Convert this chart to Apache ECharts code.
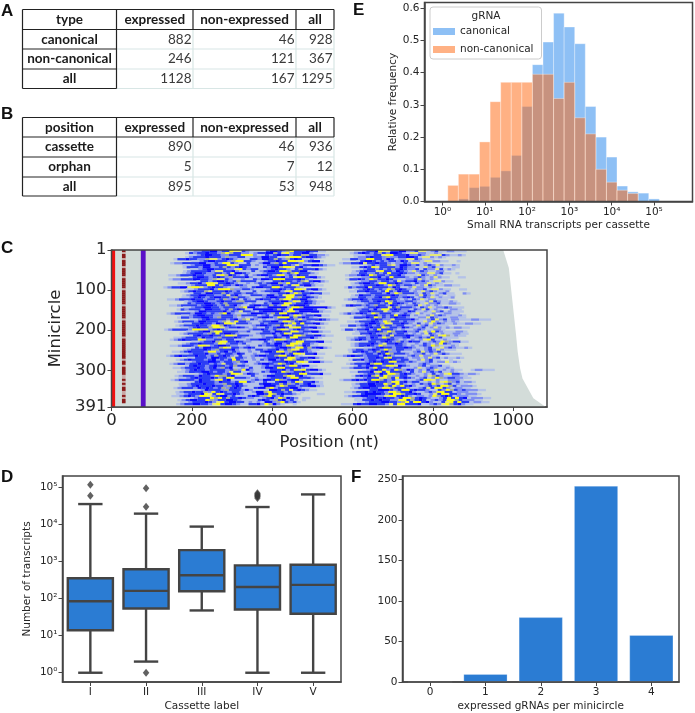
<!DOCTYPE html>
<html><head><meta charset="utf-8">
<style>html,body{margin:0;padding:0;background:#fff}#c{width:695px;height:713px}</style>
<script src="https://cdn.jsdelivr.net/npm/echarts@6/dist/echarts.min.js"></script>
</head><body><div id="c"></div>
<script>
// ---- Tables A, B
const tableAHeader = ['type','expressed','non-expressed','all'];
const tableARows = [['canonical',882,46,928],['non-canonical',246,121,367],['all',1128,167,1295]];
const tableBHeader = ['position','expressed','non-expressed','all'];
const tableBRows = [['cassette',890,46,936],['orphan',5,7,12],['all',895,53,948]];

// ---- Panel E: log10 bin edges, relative frequency
const histEdges = [0.126,0.376,0.626,0.876,1.126,1.376,1.626,1.876,2.126,2.376,2.626,2.876,3.126,3.376,3.626,3.876,4.126,4.376,4.626,4.876,5.126];
const canonicalFreq =    [0,0.008,0.043,0.047,0.075,0.095,0.143,0.295,0.425,0.495,0.585,0.542,0.49,0.295,0.2,0.138,0.048,0.03,0.026,0.008];
const nonCanonicalFreq = [0.05,0.085,0.085,0.185,0.31,0.37,0.37,0.37,0.395,0.395,0.32,0.37,0.26,0.21,0.10,0.06,0.035,0.025,0,0];

// ---- Panel D
const cassetteLabels = ['I','II','III','IV','V'];
const boxLow =  [1,2,48,1,1];
const boxQ1 =   [14,54,158,51,39];
const boxMed =  [85,162,427,207,235];
const boxQ3 =   [355,620,2040,790,825];
const boxHigh = [35700,19700,8800,29700,65000];
const outlierCassette = [0,0,1,1,1,3,3,3,3,3];
const outlierValue = [60000,118000,1,30000,96000,52000,57000,61000,65000,70000];

// ---- Panel F
const gRNACounts = ['0','1','2','3','4'];
const minicircleCounts = [0,10,80,242,58];

// ---- Panel C
const greyRows = [1,46,129,212,253,295,320,344,369,391];
const greyEnds = [975,989,998,1007,1011,1017,1023,1036,1050,1081];
const fixedBars = [[0,9,'#f01010'],[73,85,'#5a10c8']];
const redDash = [26,35];
const redDashRows = 'rqrrqrrrqrrrrqrrrrrqrrrrrrrqrrrrrrqrrrrrrrrqrrrrrrrrrrqrrqrrrrqqrqrqrrqqrqrr';
const palette = {a:'#b4c2e8',c:'#7f8ef2',b:'#2c3ef5',B:'#0808ff',y:'#fbfb1c',p:'#e4e87a',o:'#a6ae98'};
// estimated start offset of each row's streaks, in nt
const rowShift = [14,-7,22,3,-16,9,-24,17,-3,26,-12,6,-19,12,-28,21,-5,8,-31,15,-9,24,-14,4,-22,11,-1,-27,18,-8,7,-33,13,-17,25,-4,10,-21,2,-29,16,-11,23,-6,-25,19,5,-15,28,-2,-20,12,-34,8,-10,20,-26,3,-18,14,-7,27,-13,6,-23,17,-3,9,-16,22,-11,1,-21,15,-6,11,-19,5];
// one string per 5 minicircles; one character per 10 nt starting at 150 nt, grouped per 100 nt
const heatRows = [
"...accbbBB cbbyppbcaa aabBBbcoyb bbBbbaa... ....aacbbB yppbbBBccb ppacbaacca aa........",
"....abcbbB bbcoyobbcc acbbBBobpy cbbBBca... .....acbBb cbobcBBbca ppccaaca.. ..........",
"..aacbBBbb ccbbbyyyca abcbBbbcbb oobbcca... ...aaaccbb pyybbbBccb capppbcaac a.........",
"...acbbbBb bbcoccbbaa ccBBbbaapy yybBBbca.. .....accbB bbcoccbbBB bappcaca.. ..........",
"..abbBbbcc oppcbBbcaa abbcBBbobc obBbaac... ....aabbcc yybbcBbacc ppbcaaa... ..........",
"....aacbBB bbbcoyybbc aacbbBbbyy pycbBBa... .....abBBb cbcbbcBbac cappccaa.. a.........",
"..accbbbbB Bccbcyybca abaacBBcob ybbbca.... ....accbbB pbbBbbcacc bcppaca... ..........",
".aacbbBBcb bbyypbbbac acbbbBbbcp cbbBBbcaa. ......acbc bbopcBBbcb acbcpcaaca ..........",
"...abbbcBB ccbobcbBbc aaabcBBoyy pbBca..... .....aabBb ypbbbbcBbc caapcbaa.. aa........",
"..aacbBBbb bccpybcbba acbBbbcabo bbbBca.... ....acbbcb cbobBbccba bccpbaca.. ..........",
"....acbbbb BcppbbBcaa abacbBBbyy obbBBa.... ......acbB bbpybbcBbc apcbcaacc. ..........",
"..acbBBbcc bbcbpBBbca aacbbbbcbo ybbbca.... ....aabbcc bcbybbBbcc accppcbaa. a.........",
".aacbbbBbb ccbpyoBbca bacbBBbcyy cbcBbbaa.. .....accbB byobbcbbBc aaapbcaca. ..........",
"...abBBbcb BbcobbbBca aacbbbBcbp yybBBca... ....aaccbb Bcbybbbcac bcacpcaa.. aa........",
"..accbbbBB bbcoppbcaa caabcBBbyy ybbbBbca.. ......abbB bcyobbBbca accbpcaca. ..........",
"....abbcbB BbcbobbbbaC aabbBbbcbo pbBBca... ....accbbc bbcbpcbbBc bcappcaa.. ..........",
"..aacbbBcy ypbbBbcaac acbcbBBocy bbcbbca... .....acbBB bcyybbBbcc abccpaca.. ..........",
"...acbbbyy bobbcBbcaa abbcbbBcbp ybBBcaa... ....aacbbb Bbcyobcbbc acpbcaacca a.........",
".acbbBBpyy pcbBbbcaaa ccabBBbbyy cbbbca.... ......abcb bBpbbbbcBb aacpccaca. ..........",
"..aacbbbBc yyyoccbbca aacbbBbcby ypbBBca... ....acbBbc bcyobBbcac cbappcaa.. aa........",
"...acbBbbo pbbbBbcbaa abacbbBBcp ybbBca.... .....aabbB bbcbybcBbb acapcbcaac ..........",
"..abbcBBbb obcbbcbbca aaccbbBcyo bbBbbaa... ....aacbbb cBcyobbbca bcpacbaa.. ca........",
"....acbbBB bbccbpbBca abbbcBBcbp yybbBcaa.. ......acBb bcbbbbBbcc aacpbcaca. aa........",
"..aacbBbcb BBbbcobbca aacbBBbbyy cobBbca... ....aabbcc bBoybbcbBb acbcpacaac ..........",
".aacbbbBbb cbbcbocBba bcabBbbcbo yybbBBca.. .....acbbB bcbbbbBbca cabcpaccaa a.........",
"..acbBBbcc bBbbcoobbb aacbbbBBcy pbBbcaa... ....acbbcb BbyobccbbC aacpbcaaca ..........",
"...abcbbBB bcbobbbbca caabcBBbyy cbbBbca... ......aacb bbcbybBbca bcapccbaac ca........",
"..aacbbbbc bBBbcbobBc aabBBbbobc ypbBBBba.. .....abBbb cbcobbcBbc accbpacaca ..........",
".aacbbBBbb cbbbcoyBBc acBBBBBcyy oBBBBBBca. ....aacbbB bbpbobbbca bcpaccbcaa a.........",
"..abcbbbcB BbbcbobBba aBBBBBbobc yBBBBBbaa. ......acbb cBcyybBbcc abcpbaca.. cca.......",
"...aacBBbb bbBcbcpbbc abBBBBBcyy cBBBBBcaa. ....aabbBb bbpcbbccBb aacapcbaca aa........",
"..acbbbbcB BbcbcoyBca aacBBBbcob yybBBbca.. .....acbcb Bbcyobbbca cbcapcaac. accaa.....",
".aacbBBbbc cbbbcobbbb acbabbBBcy pcbbBBaa.. ....aacbbB cbcbybBbac aacpcbcaaa ca........",
"...abbcbbB BbcobbbcaC aacbBBbcyy ybobBbca.. ......abbb BbyobcbBbb caaccpbcaa accaa.....",
"..aacbBbbb bcbBcopbca caacbbBbcp cbbbBbcaa. .....acbBb ccpbbbbBca acbpcbacca aaccaaa...",
".acbbbcBBb bbcopcybbc aacbbBBcyy obBbca.... ....aacbbb Bbcyobbcbc caapcycaca ca........",
"..aabbBbbc Bbyypbbbca abcbbbBbcy bybbBBca.. .....acbBB bcypbbBbca bacpcbcaac aaccaa....",
"...acbbbBb bcyyoBbcaa aacbBBbcob pycbbcaa.. ....aabbcb Bbcbobbcbb aacpcbacaa a.........",
"..aacbBbbo yypcbbBbca caabcbBBbp yybbBBca.. ......acbB bbyobbcBbc acbacpcaca ccaa......",
".acbbbbcyy ppcbBbcaaa aacbbBbcbo ypcbBbca.. .....abbcb bBcbybbbca caacbcaacc a.........",
"..aacbBBoy ybbbbccbaa abbcBBbbyy cbbBBcaa.. ....accbbB bcyobbBccb apcybcaaac ca........",
"...acbbbbc obybBBbcaa aacbbbBcby pbbbca.... ......aabb BbcoobcbbC acacpbcaca accaa.....",
"..abBbbBbb cyypbbbcaa caabcBBbyy obbBBcaa.. .....acbbB cbpbbbBbcc aabcpyoaca a.........",
".aacbbbcBb bcobbbBbca aaacbbBbcb yybbbBca.. ....aacbbc BbcyobccbB acbcbycbaa aa........",
"..acbBbbby pccbbcbbaa acbbBBbcyy pcbBbca... ......acbB bcbbbbBbca cacacpybaa ca........",
"...aacbbBo yybbBbccaa abacbbBbcy ybbbBBaa.. .....aabbc bBbcobcBbb aacbcyocbb aa........",
"..acbbBbbb cypcbbcbaa aacbcBBcby ypbbca.... ....acbbbB bcpbbBbcaa cabcacybca a.........",
".aacbbbcyy pcbBBbccaa caabcbbBbc yyocBbaa.. ......acbb Bbcyoccbbc acacbcyoaa aca.......",
"..abcBBbbo ypbbcbBbaa aacbBBbcyy bobBBca... .....aacbB bbcbbBbcaa cbaapcbcaa ca........",
"...acbbbBb cobbbBcaac abbcbbBcbo ypbbcaa... ....acbbcb BbcyocbbcC acacbcpcaa a.........",
"..aacbBbbb cyycbBcbca acaabBBbyy cobBBbca.. ......abbB bcbobBccba aacbpcbcba ..........",
".aacbbbBcc bcbbcBbaaC aacbbbBcby ypbbBaa... .....acbbc Bbyobbbcac cbacpcbcaa a.........",
"..acbBbbbB bbcbobBbca baacbBBbbo yybBca.... ....aacbBb bcbbbcBbca aacbcpccaa ..........",
"...aabbbcB BbbcpbbcaC aacbbBbbyy cbbBBca... ......acbb Bbpybbbcac cacpcbacaa ca........",
"..acbBbbbc bBcbcbybca acabcBBcbp yobbca.... .....abbBc bbcbbBbcbb aacpcbaa.. a.........",
".aacbbbBBb cbbcobBaaC aacbbbBbby ypbBBcaa.. ....aacbBb Bbyybbcbca acbaccpaca ..........",
"..acbbcbbB bbcbcpbbca caacbBBbcy obBca..... ......acbb bBoyybbbcc caaacbcaa. ..........",
"...abBbbcb Bbbcbobbca aacbcbbBcy ybBBaa.... .....abcbB bbcyypBbca acbaccbaa. ..........",
"..aacbbbBb cbBcobBaac abaacBBbyy bbbbcaa... ....aacbbb Bcybbbcbba aacpacbcaa ca........",
".acbBbbcbb bbcbocyBca aacbbbBcby pybBBca... ......acbB bycbyocBba cabcpacaca a..accaaa.",
"..aacbbbBB bcbbcpbbaa caabcBBbyo cbbBcaa... .....aabbb Bpybybbbca bacpcbcbaa ca........",
"...acbBbbb cbyypcBbca aacbbbBbby ybbbBaa... ....acbbcB byyobBbcaa cabacpybbc acca......",
"..acbbbcBb bcyoobBaaa abaacBBbbo ypbBca.... ......abBb Boybyoccbb aacacpobca accaa.....",
".aacbBbbbB bcbyybbbca caacbbbBcy ybbbcaa... .....aacbb bpyobybBbc acbacyocbb ccaa......",
"..acbbbbcB bbcpybBaaa aacbcBBbyo cbBBca.... ....accbBb Bbyyobcbaa caacbyypca accca.....",
"...abBbbbc BbbcbyybcA abaabBBcby pbbBca.... ......abbB bbcyybBcbb aacacpyocb acca......",
"..aacbbbBb bccobbBbaa aabBBbbobo cbcbBcaa.. .....acbbB Bbbyobybca cabcbyoacb acaa......",
".aacbBbbbB bbcobBbcaa acBBBcyobb cbbBBca... ....aabbBB bbobycybBc aacbcbyyob accca.....",
"..acbbbcBb BbcbocbBba aabBBoycbb bBBcaa.... ......acbB Bbbcyyobbb caacbpbyyb caccaa....",
"...aacBbbb cobbbcBcaa aaBBbobpbB bcaa...... .....aabbB BBbcbyybBb bcaabcyobc bcccaa....",
"..acbbBbbo cybBbcbbca acBBoybbbc ba.a...... ....aacbbB bBbbcyyobb Bcaacbcyyb bacccaa...",
".aacbbbByp bypbbBbcaa aBBbyobBbb ca....aa.. ......abBB BBbcbyyobb Bbaacpbyyb bcaccca...",
"..aacbBbcy ypcbBBcbaa abBbcoybcb aa........ .....acbbB BbbccpyybB bcaccacyob Bbacccaa..",
"...acbbbyo ybobbBbcca acbBcyoBbc .aa....... ....aacbbB bBbbcbyyob Bbcaacbyby bBacccaa..",
"..acbBBbby ocbbBBbcaa aabBbcobBc ba.a...... ......aabb BbBbbccyyb obBbacbcby yobcccaa..",
".aacbbbBbc pybBBbbaca caBBcoybcb a......... .....aacbb bBBbbcoyby ybBcaabpyb ybbaccaa..",
"...acbbBBb bcpybBBbca abbBcyoBca ..a....... ....aaabBb bBBbbcpbyy bbbBaacbcp yobBcaa..."
];

// ---- Layout constants
const TXT = '#262626', FRAME = '#444444', FONT = 'DejaVu Sans', BLUE = '#2b7cd3';
const SUP = ['⁰','¹','²','³','⁴','⁵'];
const decadeLabel = v => '10' + SUP[Math.round(v)];
const plainLabel = v => String(v);
const SMALL = 10.5, LARGE = 16.5;

const gridC = {left:111.5, top:250, width:435.5, height:157};
const gridD = {left:62.5,  top:476, width:278.5, height:207};
const gridE = {left:424.5, top:2.5, width:268,   height:199};
const gridF = {left:402.5, top:476, width:276.5, height:206};
[gridC,gridD,gridE,gridF].forEach(g => { g.show = true; g.borderColor = FRAME; g.borderWidth = 1.5; g.backgroundColor = 'transparent'; g.z = 20;});

function axisBase(fontSize, extra) {
  return Object.assign({
    axisLine:{show:true,onZero:false,lineStyle:{color:FRAME,width:1.5}},
    axisTick:{show:true,length:4,lineStyle:{color:FRAME,width:1}},
    axisLabel:{color:TXT,fontFamily:FONT,fontSize:fontSize,margin:5},
    nameTextStyle:{color:TXT,fontFamily:FONT,fontSize:fontSize},
    nameLocation:'middle',
    splitLine:{show:false}
  }, extra);
}
function withCustom(a, vals, fmt) {
  a.axisTick.customValues = vals;
  a.axisLabel.customValues = vals;
  a.axisLabel.formatter = fmt || plainLabel;
  return a;
}

// ---- Panel C data built from the row strings
const nCols = 10, rowStep = 5, startNt = 150, lastRow = 391;
const heatData = [];
heatRows.forEach((s, r) => {
  const t = s.replace(/ /g,'').toLowerCase().replace(/[^acbyp o.]/g,'b');
  const upper = s.replace(/ /g,'');
  const y0 = 1 + r*rowStep, y1 = Math.min(lastRow, y0 + rowStep);
  const off = rowShift[r] || 0;
  let i = 0;
  while (i < upper.length) {
    let j = i;
    while (j < upper.length && upper[j] === upper[i]) j++;
    const k = upper[i];
    if (k !== '.') heatData.push([startNt + off + i*nCols, startNt + off + j*nCols, y0, y1, palette[k] || palette[k.toLowerCase()]]);
    i = j;
  }
});
const dashData = [];
redDashRows.split('').forEach((ch, r) => {
  const y0 = 1 + r*rowStep, y1 = Math.min(lastRow, y0 + rowStep);
  dashData.push([redDash[0], redDash[1], y0, y1, ch === 'r' ? '#8b1a1a' : '#c9a7a5']);
});

function rectItem(params, api) {
  const p0 = api.coord([api.value(0), api.value(2)]);
  const p1 = api.coord([api.value(1), api.value(3)]);
  return {type:'rect', shape:{x:p0[0], y:p0[1], width:p1[0]-p0[0], height:p1[1]-p0[1]+0.3}, style:{fill:api.value(4)}, silent:true};
}
function histItem(color) {
  return function(params, api) {
    const h = api.value(2);
    if (!h) return null;
    const a = api.coord([api.value(0), h]), b = api.coord([api.value(1), 0]);
    return {type:'rect', shape:{x:a[0], y:a[1], width:b[0]-a[0], height:b[1]-a[1]},
      style:{fill:color, stroke:'rgba(255,255,255,0.35)', lineWidth:1}};
  };
}
function histData(vals){ return vals.map((v,i)=>[histEdges[i],histEdges[i+1],v]); }

const ORANGE = 'rgba(255,100,10,0.5)', SKY = 'rgba(30,130,235,0.5)';

const log = Math.log10;
const boxData = cassetteLabels.map((c,i)=>[i,log(boxLow[i]),log(boxQ1[i]),log(boxMed[i]),log(boxQ3[i]),log(boxHigh[i])]);
function boxItem(params, api) {
  const i = api.value(0);
  const cx = api.coord([i, 0])[0], band = api.size([1,0])[0];
  const yOf = k => api.coord([i, api.value(k)])[1];
  const w = band*0.81, cap = w*0.54;
  const line = (x1,y1,x2,y2,lw) => ({type:'line',shape:{x1,y1,x2,y2},style:{stroke:'#444',lineWidth:lw}});
  return {type:'group',children:[
    line(cx,yOf(1),cx,yOf(2),2.4), line(cx,yOf(4),cx,yOf(5),2.4),
    line(cx-cap/2,yOf(1),cx+cap/2,yOf(1),2.4), line(cx-cap/2,yOf(5),cx+cap/2,yOf(5),2.4),
    {type:'rect',shape:{x:cx-w/2,y:yOf(4),width:w,height:yOf(2)-yOf(4)},style:{fill:BLUE,stroke:'#444',lineWidth:2.4}},
    line(cx-w/2,yOf(3),cx+w/2,yOf(3),2.4)
  ]};
}

// ---- Tables
const tableCols = [22.5,116.5,193,296,334];
const lightLine = '#d8e6e5';
function tableGraphic(header, rows, rowY) {
  const g = [];
  const L = (x1,y1,x2,y2,c,w) => g.push({type:'line',shape:{x1,y1,x2,y2},style:{stroke:c,lineWidth:w},z:1});
  const tableTop = rowY[0], tableBot = rowY[rowY.length-1], X = tableCols;
  for (let r=2;r<rowY.length;r++) L(X[1],rowY[r],X[4],rowY[r],lightLine,1.2);
  for (let c=2;c<X.length;c++) L(X[c],rowY[1],X[c],tableBot,lightLine,1.2);
  for (let r=2;r<rowY.length-1;r++) L(X[0],rowY[r],X[1],rowY[r],'#222',1);
  L(X[0],tableTop,X[4],tableTop,'#222',1.2);
  L(X[0],rowY[1],X[4],rowY[1],'#222',1.2);
  L(X[0],tableTop,X[0],tableBot,'#222',1.2);
  L(X[1],tableTop,X[1],tableBot,'#222',1.2);
  L(X[0],tableBot,X[1],tableBot,'#222',1.2);
  for (let c=2;c<X.length;c++) L(X[c],tableTop,X[c],rowY[1],'#222',1.2);
  const T = (text,x,y,align,bold) => g.push({type:'text',x,y,z:2,style:{text:String(text),fontFamily:'Lato',fontSize:13.5,fontWeight:bold?'bold':'normal',fill:bold?'#1a1a1a':'#3a3a3a',textAlign:align,textVerticalAlign:'middle'}});
  header.forEach((h,c)=>T(h,(X[c]+X[c+1])/2,(rowY[0]+rowY[1])/2,'center',true));
  rows.forEach((row,r)=>{
    const y=(rowY[r+1]+rowY[r+2])/2;
    T(row[0],(X[0]+X[1])/2,y,'center',true);
    for(let c=1;c<4;c++) T(row[c],X[c+1]-1.5,y,'right',false);
  });
  return g;
}
const letter = (t,x,y)=>({type:'text',x,y,z:30,style:{text:t,fontFamily:'Liberation Sans',fontWeight:'bold',fontSize:17,fill:'#111'}});
const graphics = [
  ...tableGraphic(tableAHeader,tableARows,[9.5,29.5,49,69,88.5]),
  ...tableGraphic(tableBHeader,tableBRows,[117.5,137,157,177,196]),
  letter('A',1,3),letter('B',1,106),letter('C',1,240),letter('D',1,469),letter('E',353,2),letter('F',351,469),
  {type:'text',x:486,y:16,z:40,style:{text:'gRNA',fontFamily:FONT,fontSize:SMALL,fill:TXT,textAlign:'center',textVerticalAlign:'middle'}}
];

const chart = echarts.init(document.getElementById('c'), null, {renderer:'canvas'});
chart.setOption({
  animation:false,
  backgroundColor:'#fff',
  graphic:{elements:graphics},
  legend:{
    show:true, left:430, top:7, orient:'vertical',
    padding:[19,8,4,3], itemGap:7, itemWidth:22, itemHeight:7,
    backgroundColor:'rgba(255,255,255,0.85)', borderColor:'#cccccc', borderWidth:1, borderRadius:3,
    textStyle:{color:TXT,fontFamily:FONT,fontSize:SMALL},
    data:[{name:'canonical',icon:'rect'},{name:'non-canonical',icon:'rect'}], z:30
  },
  grid:[gridC,gridD,gridE,gridF],
  xAxis:[
    withCustom(axisBase(LARGE,{gridIndex:0,type:'value',min:0,max:1084,name:'Position (nt)',nameGap:27}),[0,200,400,600,800,1000]),
    axisBase(SMALL,{gridIndex:1,type:'category',data:cassetteLabels,name:'Cassette label',nameGap:19,axisTick:{show:true,alignWithLabel:true,length:4,lineStyle:{color:FRAME}}}),
    withCustom(axisBase(SMALL,{gridIndex:2,type:'value',min:-0.425,max:5.91,name:'Small RNA transcripts per cassette',nameGap:18}),[0,1,2,3,4,5],decadeLabel),
    axisBase(SMALL,{gridIndex:3,type:'category',data:gRNACounts,name:'expressed gRNAs per minicircle',nameGap:19,axisTick:{show:true,alignWithLabel:true,length:4,lineStyle:{color:FRAME}}})
  ],
  yAxis:[
    withCustom(axisBase(LARGE,{gridIndex:0,type:'value',min:1,max:391,inverse:true,name:'Minicircle',nameGap:47}),[1,100,200,300,391]),
    withCustom(axisBase(SMALL,{gridIndex:1,type:'value',min:-0.25,max:5.31,name:'Number of transcripts',nameGap:30}),[0,1,2,3,4,5],decadeLabel),
    withCustom(axisBase(SMALL,{gridIndex:2,type:'value',min:0,max:0.618,name:'Relative frequency',nameGap:25}),[0,0.1,0.2,0.3,0.4,0.5,0.6],v=>v.toFixed(1)),
    withCustom(axisBase(SMALL,{gridIndex:3,type:'value',min:0,max:254,nameGap:25}),[0,50,100,150,200,250])
  ],
  series:[
    {type:'custom',name:'coverage',xAxisIndex:0,yAxisIndex:0,clip:true,silent:true,
      data:[0],
      renderItem:(params,api)=>{
        const pts=[api.coord([0,1])];
        greyRows.forEach((r,i)=>pts.push(api.coord([greyEnds[i],r])));
        pts.push(api.coord([0,391]));
        return {type:'polygon',shape:{points:pts},style:{fill:'#d3dcd9'}};
      }},
    {type:'custom',name:'features',xAxisIndex:0,yAxisIndex:0,clip:true,silent:true,progressive:0,
      data:fixedBars.map(b=>[b[0],b[1],1,391,b[2]]).concat(dashData),
      encode:{x:[0,1],y:[2,3]},renderItem:rectItem},
    {type:'custom',name:'reads',xAxisIndex:0,yAxisIndex:0,clip:true,silent:true,progressive:0,
      data:heatData,
      encode:{x:[0,1],y:[2,3]},renderItem:rectItem},
    {type:'custom',name:'box',xAxisIndex:1,yAxisIndex:1,data:boxData,encode:{x:0,y:[1,2,3,4,5]},renderItem:boxItem,z:3},
    {type:'scatter',name:'outliers',xAxisIndex:1,yAxisIndex:1,symbol:'diamond',symbolSize:[6.5,8],itemStyle:{color:'#3a3a3a'},
      data:outlierValue.map((v,i)=>[outlierCassette[i],log(v)]),z:4},
    {type:'custom',name:'canonical',xAxisIndex:2,yAxisIndex:2,itemStyle:{color:SKY},data:histData(canonicalFreq),encode:{x:[0,1],y:2},renderItem:histItem(SKY),z:3},
    {type:'custom',name:'non-canonical',xAxisIndex:2,yAxisIndex:2,itemStyle:{color:ORANGE},data:histData(nonCanonicalFreq),encode:{x:[0,1],y:2},renderItem:histItem(ORANGE),z:4},
    {type:'bar',name:'minicircles',xAxisIndex:3,yAxisIndex:3,data:minicircleCounts,barWidth:'80%',itemStyle:{color:BLUE,borderColor:'rgba(255,255,255,0.25)',borderWidth:1},z:3}
  ]
});
</script></body></html>
